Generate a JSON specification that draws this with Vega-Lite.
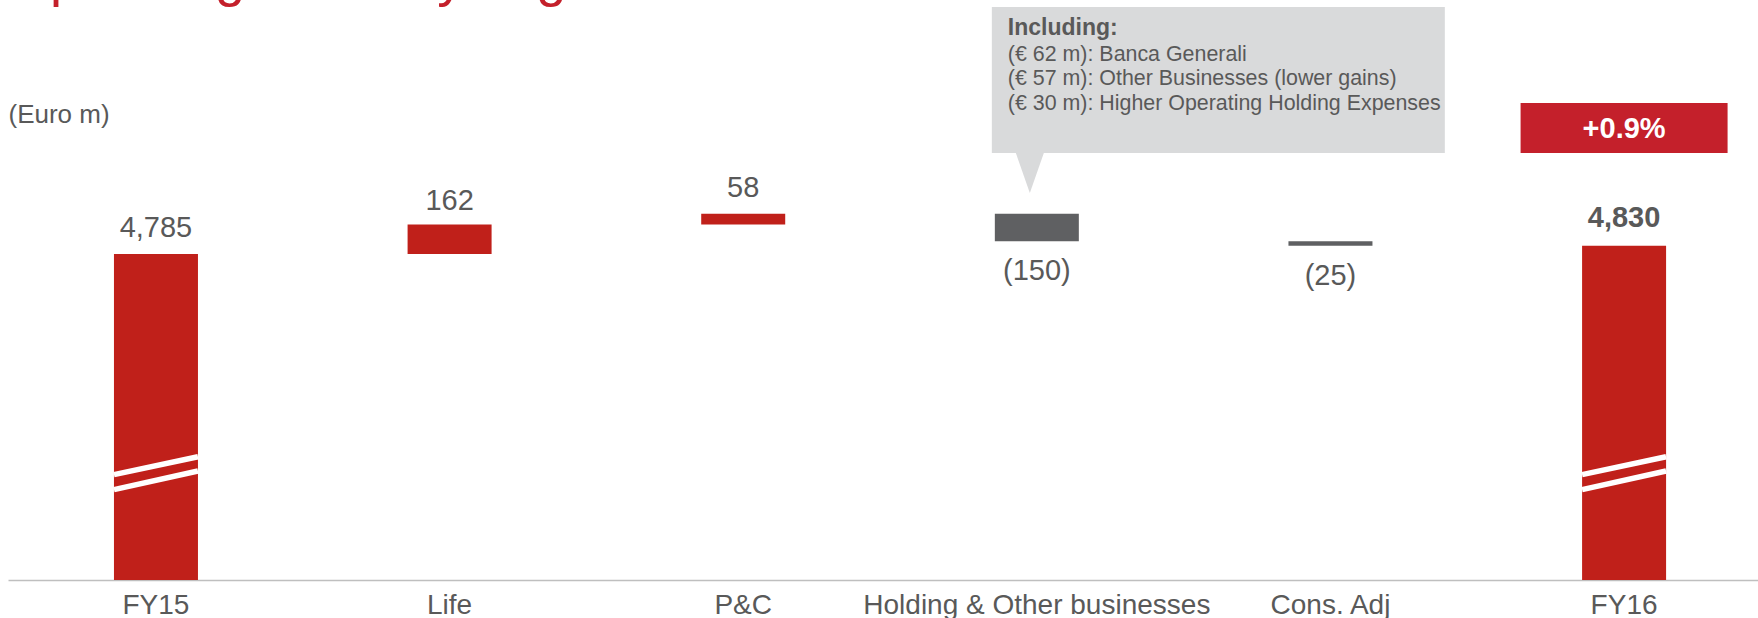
{
  "$schema": "https://vega.github.io/schema/vega-lite/v6.json",
  "width": 1750,
  "height": 580,
  "autosize": {"type": "none"},
  "padding": {"left": 8, "top": 0, "right": 0, "bottom": 38},
  "background": "white",
  "datasets": {
    "bars": [
      {"cat": "FY15", "start": 3000, "end": 4785, "kind": "pos", "label": "4,785", "lab": "up"},
      {"cat": "Life", "start": 4785, "end": 4947, "kind": "pos", "label": "162", "lab": "upnear"},
      {"cat": "P&C", "start": 4947, "end": 5005, "kind": "pos", "label": "58", "lab": "up"},
      {"cat": "Holding & Other businesses", "start": 5005, "end": 4855, "kind": "neg", "label": "(150)", "lab": "down"},
      {"cat": "Cons. Adj", "start": 4855, "end": 4830, "kind": "neg", "label": "(25)", "lab": "down"},
      {"cat": "FY16", "start": 3000, "end": 4830, "kind": "total", "label": "4,830", "lab": "bold"}
    ],
    "breaks": [
      {"cat": "FY15", "yl": 3577, "yr": 3675},
      {"cat": "FY15", "yl": 3495, "yr": 3597},
      {"cat": "FY16", "yl": 3577, "yr": 3675},
      {"cat": "FY16", "yl": 3495, "yr": 3597}
    ],
    "heading": [
      {"cat": "FY15", "v": 6198, "t": "Operating result by segment"}
    ],
    "badge": [
      {"cat": "FY16", "y0": 5338, "y1": 5612, "ty": 5420, "text": "+0.9%"}
    ],
    "callout": [
      {"cat": "Holding & Other businesses", "y0": 5338, "y1": 6138, "tip": 5229}
    ],
    "calloutText": [
      {"cat": "Holding & Other businesses", "v": 5984, "t": "Including:", "w": "bold"},
      {"cat": "Holding & Other businesses", "v": 5842, "t": "(€ 62 m): Banca Generali", "w": "normal"},
      {"cat": "Holding & Other businesses", "v": 5708, "t": "(€ 57 m): Other Businesses (lower gains)", "w": "normal"},
      {"cat": "Holding & Other businesses", "v": 5574, "t": "(€ 30 m): Higher Operating Holding Expenses", "w": "normal"}
    ]
  },
  "layer": [
    {
      "data": {"name": "bars"},
      "mark": {"type": "bar", "width": 84},
      "encoding": {
        "x": {
          "field": "cat", "type": "nominal", "sort": null,
          "scale": {"domain": ["FY15", "Life", "P&C", "Holding & Other businesses", "Cons. Adj", "FY16"], "paddingInner": 0.5, "paddingOuter": 0.23, "align": 0.552},
          "axis": {
            "title": null, "labelAngle": 0, "ticks": false, "tickSize": 0, "labelPadding": 33,
            "labelBaseline": "alphabetic", "labelFontSize": 28, "labelColor": "#595959", "labelLimit": 0,
            "labelFont": "Liberation Sans", "domainColor": "#BFBFBF", "domainWidth": 1.5, "grid": false
          }
        },
        "y": {
          "field": "start", "type": "quantitative",
          "scale": {"domain": [3000, 6176], "zero": false, "nice": false},
          "axis": {
            "title": "(Euro m)", "labels": false, "ticks": false, "domain": false, "grid": false,
            "titleAngle": 0, "titleAlign": "left", "titleBaseline": "alphabetic",
            "titleX": 0, "titleY": 122, "titleFont": "Liberation Sans", "titleFontSize": 26,
            "titleFontWeight": "normal", "titleColor": "#595959"
          }
        },
        "y2": {"field": "end"},
        "color": {
          "field": "kind", "type": "nominal",
          "scale": {"domain": ["pos", "neg", "total"], "range": ["#C0201A", "#5F6062", "#C0201A"]},
          "legend": null
        }
      }
    },
    {
      "data": {"name": "breaks"},
      "mark": {"type": "rule", "color": "white", "strokeWidth": 5.5, "strokeCap": "butt", "xOffset": -42, "x2Offset": 42},
      "encoding": {
        "x": {"field": "cat", "type": "nominal", "bandPosition": 0.5, "scale": {"domain": ["FY15", "Life", "P&C", "Holding & Other businesses", "Cons. Adj", "FY16"]}},
        "x2": {"field": "cat", "bandPosition": 0.5},
        "y": {"field": "yl", "type": "quantitative", "scale": {"domain": [3000, 6176], "zero": false, "nice": false}},
        "y2": {"field": "yr"}
      }
    },
    {
      "data": {"name": "heading"},
      "mark": {"type": "text", "font": "Liberation Sans", "fontSize": 54, "color": "#C4202B", "align": "left", "baseline": "alphabetic", "dx": -148, "clip": false},
      "encoding": {
        "x": {"field": "cat", "type": "nominal", "scale": {"domain": ["FY15", "Life", "P&C", "Holding & Other businesses", "Cons. Adj", "FY16"]}},
        "y": {"field": "v", "type": "quantitative", "scale": {"domain": [3000, 6176], "zero": false, "nice": false}},
        "text": {"field": "t"}
      }
    },
    {
      "data": {"name": "bars"},
      "transform": [{"filter": "datum.lab == 'up'"}],
      "mark": {"type": "text", "font": "Liberation Sans", "fontSize": 29, "color": "#595959", "baseline": "alphabetic", "dy": -17},
      "encoding": {
        "x": {"field": "cat", "type": "nominal", "scale": {"domain": ["FY15", "Life", "P&C", "Holding & Other businesses", "Cons. Adj", "FY16"]}},
        "y": {"field": "end", "type": "quantitative", "scale": {"domain": [3000, 6176], "zero": false, "nice": false}},
        "text": {"field": "label"}
      }
    },
    {
      "data": {"name": "bars"},
      "transform": [{"filter": "datum.lab == 'upnear'"}],
      "mark": {"type": "text", "font": "Liberation Sans", "fontSize": 29, "color": "#595959", "baseline": "alphabetic", "dy": -14},
      "encoding": {
        "x": {"field": "cat", "type": "nominal", "scale": {"domain": ["FY15", "Life", "P&C", "Holding & Other businesses", "Cons. Adj", "FY16"]}},
        "y": {"field": "end", "type": "quantitative", "scale": {"domain": [3000, 6176], "zero": false, "nice": false}},
        "text": {"field": "label"}
      }
    },
    {
      "data": {"name": "bars"},
      "transform": [{"filter": "datum.lab == 'bold'"}],
      "mark": {"type": "text", "font": "Liberation Sans", "fontSize": 29, "fontWeight": "bold", "color": "#595959", "baseline": "alphabetic", "dy": -19},
      "encoding": {
        "x": {"field": "cat", "type": "nominal", "scale": {"domain": ["FY15", "Life", "P&C", "Holding & Other businesses", "Cons. Adj", "FY16"]}},
        "y": {"field": "end", "type": "quantitative", "scale": {"domain": [3000, 6176], "zero": false, "nice": false}},
        "text": {"field": "label"}
      }
    },
    {
      "data": {"name": "bars"},
      "transform": [{"filter": "datum.lab == 'down'"}],
      "mark": {"type": "text", "font": "Liberation Sans", "fontSize": 29, "color": "#595959", "baseline": "alphabetic", "dy": 39},
      "encoding": {
        "x": {"field": "cat", "type": "nominal", "scale": {"domain": ["FY15", "Life", "P&C", "Holding & Other businesses", "Cons. Adj", "FY16"]}},
        "y": {"field": "end", "type": "quantitative", "scale": {"domain": [3000, 6176], "zero": false, "nice": false}},
        "text": {"field": "label"}
      }
    },
    {
      "data": {"name": "badge"},
      "mark": {"type": "bar", "width": 207, "color": "#C4202B"},
      "encoding": {
        "x": {"field": "cat", "type": "nominal", "scale": {"domain": ["FY15", "Life", "P&C", "Holding & Other businesses", "Cons. Adj", "FY16"]}},
        "y": {"field": "y0", "type": "quantitative", "scale": {"domain": [3000, 6176], "zero": false, "nice": false}},
        "y2": {"field": "y1"}
      }
    },
    {
      "data": {"name": "badge"},
      "mark": {"type": "text", "font": "Liberation Sans", "fontSize": 29, "fontWeight": "bold", "color": "white", "baseline": "alphabetic"},
      "encoding": {
        "x": {"field": "cat", "type": "nominal", "scale": {"domain": ["FY15", "Life", "P&C", "Holding & Other businesses", "Cons. Adj", "FY16"]}},
        "y": {"field": "ty", "type": "quantitative", "scale": {"domain": [3000, 6176], "zero": false, "nice": false}},
        "text": {"field": "text"}
      }
    },
    {
      "data": {"name": "callout"},
      "mark": {"type": "bar", "width": 453, "xOffset": 181.5, "color": "#D9DADB"},
      "encoding": {
        "x": {"field": "cat", "type": "nominal", "scale": {"domain": ["FY15", "Life", "P&C", "Holding & Other businesses", "Cons. Adj", "FY16"]}},
        "y": {"field": "y0", "type": "quantitative", "scale": {"domain": [3000, 6176], "zero": false, "nice": false}},
        "y2": {"field": "y1"}
      }
    },
    {
      "data": {"name": "callout"},
      "mark": {"type": "point", "shape": "M-0.7,-1L0.7,-1L0,1Z", "size": 1600, "filled": true, "opacity": 1, "color": "#D9DADB", "strokeWidth": 0, "xOffset": -7},
      "encoding": {
        "x": {"field": "cat", "type": "nominal", "scale": {"domain": ["FY15", "Life", "P&C", "Holding & Other businesses", "Cons. Adj", "FY16"]}},
        "y": {"field": "tip", "type": "quantitative", "scale": {"domain": [3000, 6176], "zero": false, "nice": false}}
      }
    },
    {
      "data": {"name": "calloutText"},
      "transform": [{"filter": "datum.w == 'bold'"}],
      "mark": {"type": "text", "font": "Liberation Sans", "fontSize": 23, "fontWeight": "bold", "color": "#595959", "align": "left", "baseline": "alphabetic", "dx": -29},
      "encoding": {
        "x": {"field": "cat", "type": "nominal", "scale": {"domain": ["FY15", "Life", "P&C", "Holding & Other businesses", "Cons. Adj", "FY16"]}},
        "y": {"field": "v", "type": "quantitative", "scale": {"domain": [3000, 6176], "zero": false, "nice": false}},
        "text": {"field": "t"}
      }
    },
    {
      "data": {"name": "calloutText"},
      "transform": [{"filter": "datum.w == 'normal'"}],
      "mark": {"type": "text", "font": "Liberation Sans", "fontSize": 21.4, "color": "#595959", "align": "left", "baseline": "alphabetic", "dx": -29},
      "encoding": {
        "x": {"field": "cat", "type": "nominal", "scale": {"domain": ["FY15", "Life", "P&C", "Holding & Other businesses", "Cons. Adj", "FY16"]}},
        "y": {"field": "v", "type": "quantitative", "scale": {"domain": [3000, 6176], "zero": false, "nice": false}},
        "text": {"field": "t"}
      }
    }
  ],
  "config": {
    "view": {"stroke": null},
    "font": "Liberation Sans"
  }
}
